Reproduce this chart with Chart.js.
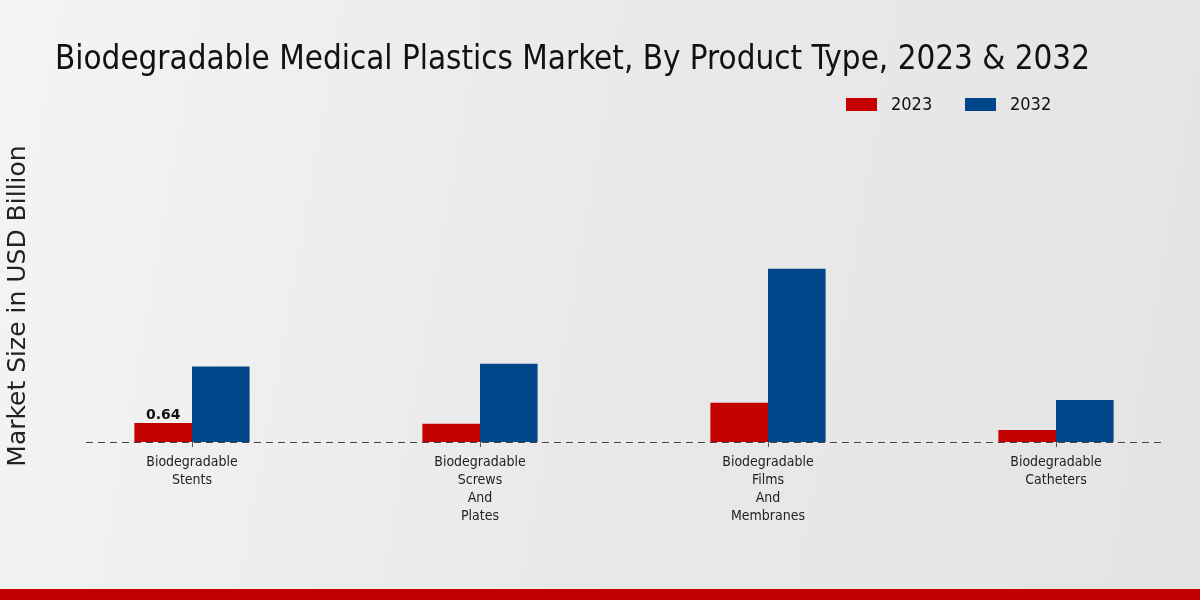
<!DOCTYPE html>
<html>
<head>
<meta charset="utf-8">
<script src="https://cdn.jsdelivr.net/npm/chart.js@4"></script>
<style>
  html, body { margin: 0; padding: 0; }
  body {
    width: 1200px; height: 600px; overflow: hidden; position: relative;
    background: linear-gradient(100deg, #f4f4f4 0%, #e9e9e9 50%, #e4e4e4 100%);
  }
  #wrap { position: absolute; left: 0; top: 0; width: 1200px; height: 600px; }
  #band { position: absolute; left: 0; top: 589px; width: 1200px; height: 11px; background: #c00000; }
</style>
</head>
<body>
<div id="wrap"><canvas id="marketChart" width="1200" height="600"></canvas></div>
<div id="band"></div>
<script>
const chartTitle = 'Biodegradable Medical Plastics Market, By Product Type, 2023 & 2032';
const yAxisTitle = 'Market Size in USD Billion';
const categories = [
  ['Biodegradable', 'Stents'],
  ['Biodegradable', 'Screws', 'And', 'Plates'],
  ['Biodegradable', 'Films', 'And', 'Membranes'],
  ['Biodegradable', 'Catheters']
];
const seriesNames = ['2023', '2032'];
const values2023 = [0.64, 0.61, 1.32, 0.40];
const values2032 = [2.54, 2.63, 5.83, 1.41];
const labelledBars = [{ dataset: 0, index: 0, text: '0.64' }];

const red = '#c40000';
const blue = '#00468a';
const condensed = '"DejaVu Sans Condensed", "DejaVu Sans", sans-serif';

// title, legend, axis title, dashed baseline and value label
const decorations = {
  id: 'decorations',
  beforeDatasetsDraw(chart) {
    const ctx = chart.ctx;
    const y0 = chart.scales.y.getPixelForValue(0);
    ctx.save();
    ctx.strokeStyle = '#444';
    ctx.lineWidth = 1;
    ctx.setLineDash([7, 5]);
    ctx.beginPath();
    ctx.moveTo(86, y0 + 0.5);
    ctx.lineTo(1162, y0 + 0.5);
    ctx.stroke();
    ctx.restore();
  },
  afterDraw(chart) {
    const ctx = chart.ctx;
    ctx.save();
    // title
    ctx.fillStyle = '#111';
    ctx.font = '34px ' + condensed;
    ctx.textBaseline = 'alphabetic';
    ctx.textAlign = 'left';
    ctx.fillText(chartTitle, 55, 69, 1035);

    // legend
    const legendItems = [
      { name: seriesNames[0], color: red, x: 846 },
      { name: seriesNames[1], color: blue, x: 965 }
    ];
    ctx.font = '18px ' + condensed;
    ctx.textBaseline = 'middle';
    legendItems.forEach(item => {
      ctx.fillStyle = item.color;
      ctx.fillRect(item.x, 98, 31, 13);
      ctx.fillStyle = '#111';
      ctx.fillText(item.name, item.x + 45, 105);
    });

    // y axis title
    ctx.save();
    ctx.translate(18, 306);
    ctx.rotate(-Math.PI / 2);
    ctx.textAlign = 'center';
    ctx.textBaseline = 'middle';
    ctx.font = '25px "DejaVu Sans", sans-serif';
    ctx.fillStyle = '#222';
    ctx.fillText(yAxisTitle, 0, 0);
    ctx.restore();

    // value labels
    ctx.font = 'bold 14px "DejaVu Sans", sans-serif';
    ctx.textAlign = 'center';
    ctx.textBaseline = 'bottom';
    ctx.fillStyle = '#111';
    labelledBars.forEach(l => {
      const bar = chart.getDatasetMeta(l.dataset).data[l.index];
      ctx.fillText(l.text, bar.x, bar.y - 1);
    });
    ctx.restore();
  }
};

new Chart(document.getElementById('marketChart').getContext('2d'), {
  type: 'bar',
  data: {
    labels: categories,
    datasets: [
      { label: seriesNames[0], data: values2023, backgroundColor: red },
      { label: seriesNames[1], data: values2032, backgroundColor: blue }
    ]
  },
  options: {
    responsive: false,
    animation: false,
    maintainAspectRatio: false,
    categoryPercentage: 0.4,
    barPercentage: 1.0,
    layout: { padding: { left: 48, right: 0, top: 121, bottom: 0 } },
    plugins: {
      legend: { display: false },
      title: { display: false },
      tooltip: { enabled: false }
    },
    scales: {
      x: {
        border: { display: false },
        grid: { display: true, drawOnChartArea: false, offset: false, tickLength: 5, color: '#555' },
        ticks: {
          padding: 6,
          color: '#222',
          font: { family: condensed, size: 14, lineHeight: 1.3 },
          maxRotation: 0,
          autoSkip: false
        },
        afterFit(scale) { scale.height = 158; }
      },
      y: {
        display: false,
        min: 0,
        max: 10.8
      }
    }
  },
  plugins: [decorations]
});
</script>
</body>
</html>
